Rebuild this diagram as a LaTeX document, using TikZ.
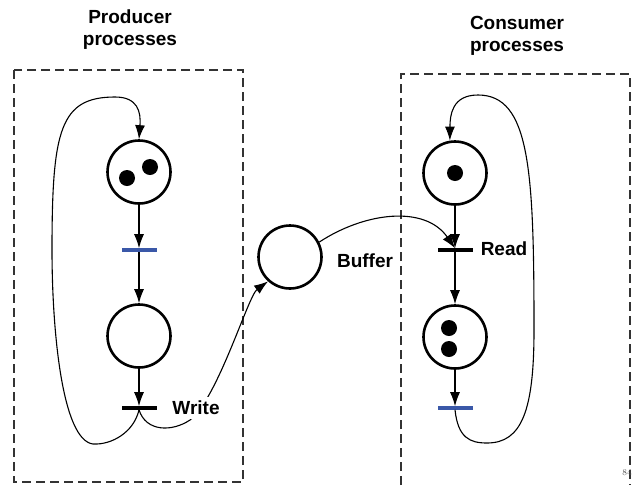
\documentclass[tikz,border=0pt]{standalone}
\usepackage{fontspec}
\setsansfont{Liberation Sans}
\usetikzlibrary{arrows.meta}
\definecolor{transblue}{RGB}{58,88,168}
\begin{document}
\begin{tikzpicture}[x=1pt,y=-1pt,
  place/.style={shape=circle,draw,line width=2.6pt,minimum size=63pt,inner sep=0pt},
  token/.style={shape=circle,fill,minimum size=16pt,inner sep=0pt},
  trans/.style={shape=rectangle,fill,minimum width=35pt,minimum height=3.2pt,inner sep=0pt},
  lbl/.style={font=\sffamily\bfseries\fontsize{19}{22}\selectfont,inner sep=1pt},
  flow/.style={-{Latex[length=14pt,width=10pt]},line width=1.1pt},
  region/.style={draw=black!80,line width=1.3pt,dash pattern=on 9pt off 5pt}]
  \useasboundingbox (0,0) rectangle (644,485);

  % titles
  \node[lbl,align=center] (ptitle) at (130,30) {Producer\\processes};
  \node[lbl,align=center] (ctitle) at (517,36) {Consumer\\processes};

  % process regions
  \draw[region] (14,70) rectangle (243,482);
  \draw[region] (401,485) -- (401,74) -- (630,74) -- (630,485);

  % producer
  \node[place] (p1) at (139,172) {};
  \node[token] (p1a) at (127,178) {};
  \node[token] (p1b) at (150,167) {};
  \node[trans,fill=transblue] (t1) at (139,250) {};
  \node[place] (p2) at (139,336) {};
  \node[trans] (tw) at (139,408) {};

  % buffer
  \node[place] (buf) at (290,257) {};
  \node[lbl] (lb) at (365,261) {Buffer};

  % consumer
  \node[place] (c1) at (455,173) {};
  \node[token] (c1a) at (455,173) {};
  \node[trans] (tr) at (455,250) {};
  \node[lbl] (lr) at (504,249) {Read};
  \node[place] (c2) at (455,337) {};
  \node[token] (c2a) at (449,328) {};
  \node[token] (c2b) at (449,349) {};
  \node[trans,fill=transblue] (tc) at (455,408) {};

  \draw[flow] (p1) -- (t1);
  \draw[flow] (t1) -- (p2);
  \draw[flow] (p2) -- (tw);
  \draw[flow] (tw.south) .. controls (134,432) and (112,445) .. (93,444)
    .. controls (62,440) and (52,330) .. (52,250)
    .. controls (52,130) and (60,97) .. (115,97)
    .. controls (138,97) and (141,112) .. (p1.north);
  \draw[flow] (tw.south) .. controls (146,432) and (172,432) .. (190,420)
    .. controls (218,398) and (248,296) .. (buf.228);
  \node[lbl,fill=white,inner sep=4pt] (lw) at (196,408) {Write};

  \draw[flow] (buf.27) .. controls (365,212) and (425,205) .. (tr.north);

  \draw[flow] (c1) -- (tr);
  \draw[flow] (tr) -- (c2);
  \draw[flow] (c2) -- (tc);
  \draw[flow] (tc.south) .. controls (458,438) and (470,443) .. (487,443)
    .. controls (522,443) and (534,410) .. (534,330)
    .. controls (534,170) and (530,95) .. (478,95)
    .. controls (452,95) and (450,115) .. (c1.99);

  \node[text=black!70,font=\fontsize{9}{10}\selectfont,inner sep=0pt] (pg) at (627,473) {84};
\end{tikzpicture}
\end{document}
